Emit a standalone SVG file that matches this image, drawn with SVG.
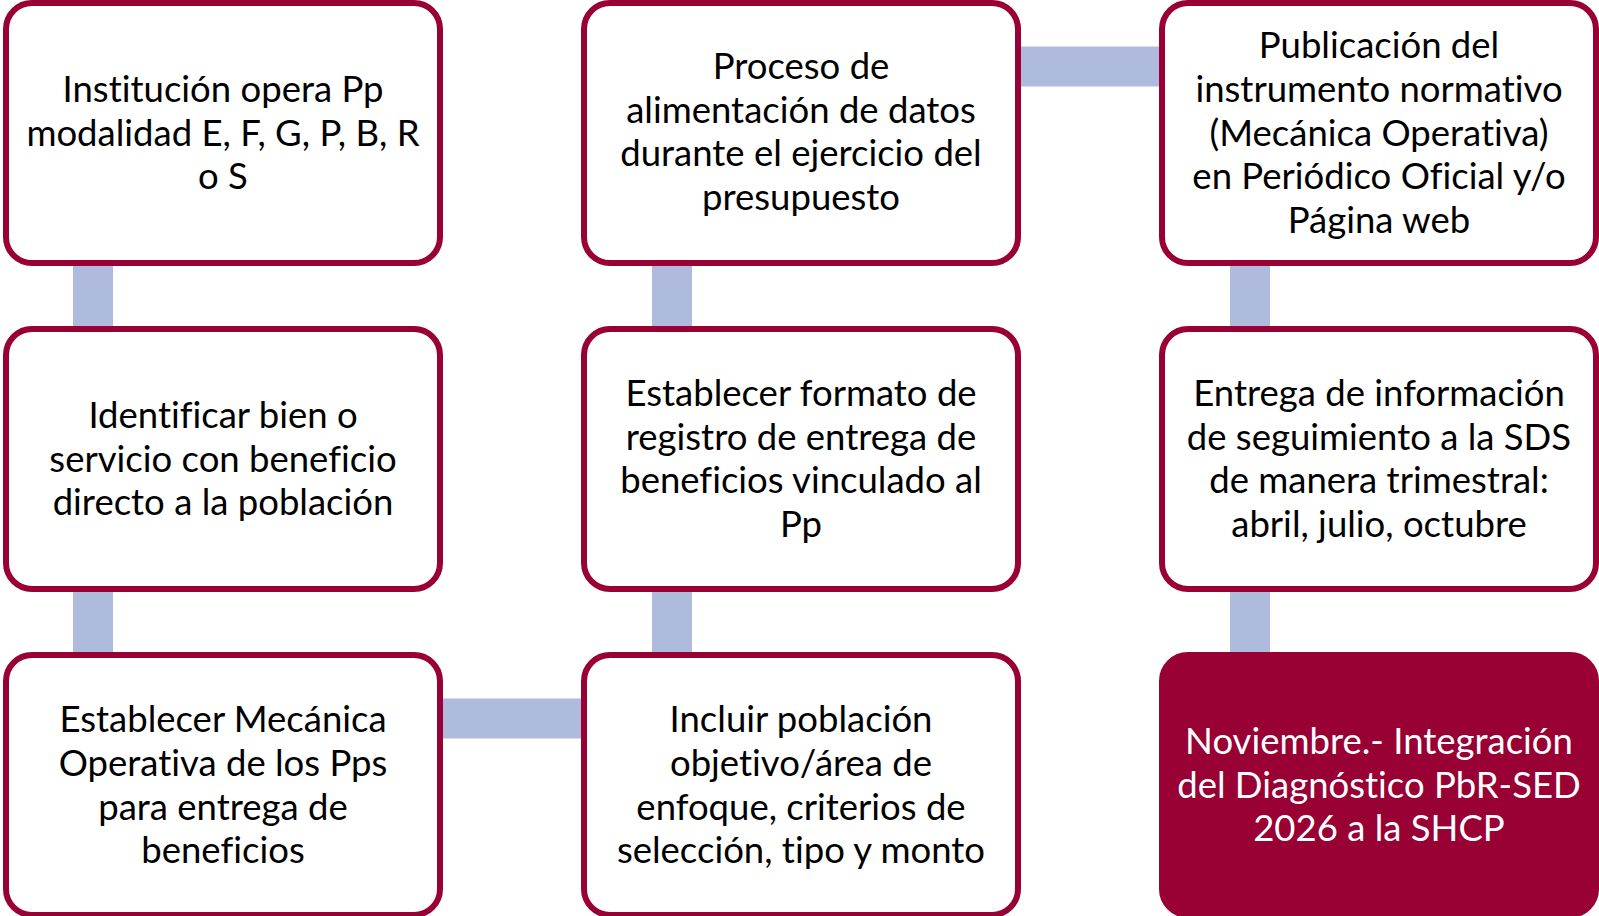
<svg xmlns="http://www.w3.org/2000/svg" width="1599" height="916" viewBox="0 0 1599 916">
<style>
.box{fill:#ffffff;stroke:#990033;stroke-width:6}
.boxf{fill:#990033;stroke:#990033;stroke-width:6}
.conn{stroke:#aebbdc;stroke-width:40;fill:none;stroke-linecap:butt}
text{font-family:Lato,"Liberation Sans",sans-serif;font-size:36.5px;fill:#000000;text-anchor:middle;font-variant-ligatures:none}
.w{fill:#ffffff}
</style>
<rect width="1599" height="916" fill="#ffffff"/>
<g id="connectors">
<path class="conn" d="M93 260V332"/>
<path class="conn" d="M93 586V658"/>
<path class="conn" d="M672 260V332"/>
<path class="conn" d="M672 586V658"/>
<path class="conn" d="M1250 260V332"/>
<path class="conn" d="M1250 586V658"/>
<path class="conn" d="M437 718.5H587"/>
<path class="conn" d="M1015 66.5H1165"/>
</g>
<g id="n1">
<rect class="box" x="6" y="3" width="434" height="260" rx="26"/>
<text x="223" y="101.6">Institución opera Pp</text>
<text x="223" y="145.5">modalidad E, F, G, P, B, R</text>
<text x="223" y="189.4">o S</text>
</g>
<g id="n2">
<rect class="box" x="584" y="3" width="434" height="260" rx="26"/>
<text x="801" y="78.6">Proceso de</text>
<text x="801" y="122.5">alimentación de datos</text>
<text x="801" y="166.4">durante el ejercicio del</text>
<text x="801" y="210.3">presupuesto</text>
</g>
<g id="n3">
<rect class="box" x="1162" y="3" width="434" height="260" rx="26"/>
<text x="1379" y="57.7">Publicación del</text>
<text x="1379" y="101.6">instrumento normativo</text>
<text x="1379" y="145.5">(Mecánica Operativa)</text>
<text x="1379" y="189.4">en Periódico Oficial y/o</text>
<text x="1379" y="233.3">Página web</text>
</g>
<g id="n4">
<rect class="box" x="6" y="329" width="434" height="260" rx="26"/>
<text x="223" y="427.6">Identificar bien o</text>
<text x="223" y="471.5">servicio con beneficio</text>
<text x="223" y="515.4">directo a la población</text>
</g>
<g id="n5">
<rect class="box" x="584" y="329" width="434" height="260" rx="26"/>
<text x="801" y="405.6">Establecer formato de</text>
<text x="801" y="449.5">registro de entrega de</text>
<text x="801" y="493.4">beneficios vinculado al</text>
<text x="801" y="537.3">Pp</text>
</g>
<g id="n6">
<rect class="box" x="1162" y="329" width="434" height="260" rx="26"/>
<text x="1379" y="405.6">Entrega de información</text>
<text x="1379" y="449.5">de seguimiento a la SDS</text>
<text x="1379" y="493.4">de manera trimestral:</text>
<text x="1379" y="537.3">abril, julio, octubre</text>
</g>
<g id="n7">
<rect class="box" x="6" y="655" width="434" height="260" rx="26"/>
<text x="223" y="731.7">Establecer Mecánica</text>
<text x="223" y="775.6">Operativa de los Pps</text>
<text x="223" y="819.5">para entrega de</text>
<text x="223" y="863.4">beneficios</text>
</g>
<g id="n8">
<rect class="box" x="584" y="655" width="434" height="260" rx="26"/>
<text x="801" y="731.7">Incluir población</text>
<text x="801" y="775.6">objetivo/área de</text>
<text x="801" y="819.5">enfoque, criterios de</text>
<text x="801" y="863.4">selección, tipo y monto</text>
</g>
<g id="n9">
<rect class="boxf" x="1162" y="655" width="434" height="260" rx="26"/>
<text class="w" x="1379" y="753.6">Noviembre.- Integración</text>
<text class="w" x="1379" y="797.5">del Diagnóstico PbR-SED</text>
<text class="w" x="1379" y="841.4">2026 a la SHCP</text>
</g>
</svg>
